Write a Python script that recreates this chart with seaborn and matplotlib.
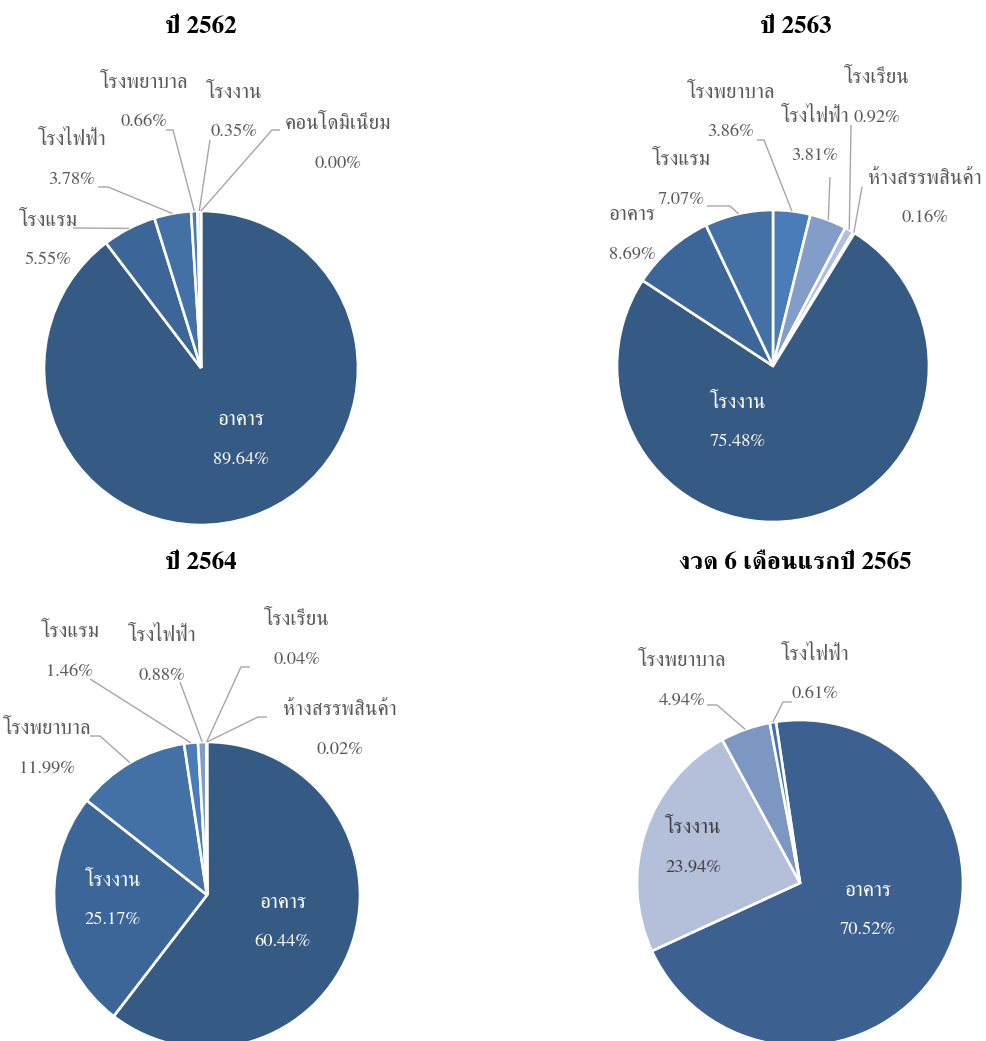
import matplotlib
matplotlib.use("Agg")
import numpy as np
import pandas as pd
import matplotlib.pyplot as plt
import seaborn as sns

# ---------------- data ----------------
titles = ["ปี 2562", "ปี 2563", "ปี 2564", "งวด 6 เดือนแรกปี 2565"]

cats_2562 = ["อาคาร", "โรงแรม", "โรงไฟฟ้า", "โรงพยาบาล", "โรงงาน", "คอนโดมิเนียม"]
vals_2562 = [89.64, 5.55, 3.78, 0.66, 0.35, 0.00]

cats_2563 = ["โรงพยาบาล", "โรงไฟฟ้า", "โรงเรียน", "ห้างสรรพสินค้า", "โรงงาน", "อาคาร", "โรงแรม"]
vals_2563 = [3.86, 3.81, 0.92, 0.16, 75.48, 8.69, 7.07]

cats_2564 = ["อาคาร", "โรงงาน", "โรงพยาบาล", "โรงแรม", "โรงไฟฟ้า", "โรงเรียน", "ห้างสรรพสินค้า"]
vals_2564 = [60.44, 25.17, 11.99, 1.46, 0.88, 0.04, 0.02]

cats_2565 = ["อาคาร", "โรงงาน", "โรงพยาบาล", "โรงไฟฟ้า"]
vals_2565 = [70.52, 23.94, 4.94, 0.61]

# ---------------- style ----------------
sns.set_theme(style="white")
plt.rcParams["font.family"] = ["FreeSerif", "DejaVu Sans"]

W, H = 987, 1041
fig = plt.figure(figsize=(W / 100, H / 100), dpi=100)
fig.patch.set_facecolor("white")

DARK = "#355a84"
C2 = "#3d6698"
C3 = "#4371a6"
C4 = "#4a7cba"
C5 = "#829dc8"
C6 = "#adc0e0"
C7 = "#c9d5ec"

LBL = "#595959"
LEAD = "#a6a6a6"
FS_NAME = 15
FS_PCT = 13.2
HALF = 19.5  # half distance (px) between name line and percent line

# label layout: category -> (mode, block centre offset px (dx, dy-down), leader end px, elbow px, text colour)
layouts = [
    dict(cats=cats_2562, vals=vals_2562, title=titles[0], tpos=(201, 27),
         c=(201, 368), r=157, start=90,
         colors=[DARK, C2, C3, C4, C6, C7],
         labels={
             "อาคาร": ("in", (40, 72), None, None, "white"),
             "โรงแรม": ("out", (-153, -127), (-128, -140), None, LBL),
             "โรงไฟฟ้า": ("out", (-129, -208), (-103, -181), (-93, -181), LBL),
             "โรงพยาบาล": ("out", (-57, -265), (-35, -238), (-28, -238), LBL),
             "โรงงาน": ("out", (33, -255), (9, -228), None, LBL),
             "คอนโดมิเนียม": ("out", (137, -224), (79, -238), (71, -238), LBL),
         }),
    dict(cats=cats_2563, vals=vals_2563, title=titles[1], tpos=(796, 27),
         c=(773, 366), r=156, start=90,
         colors=[C4, C5, C6, C7, DARK, C2, C3],
         labels={
             "โรงงาน": ("in", (-35, 57), None, None, "white"),
             "อาคาร": ("none", (-141, -131), None, None, LBL),
             "โรงแรม": ("out", (-92, -186), (-66, -160), (-43, -160), LBL),
             "โรงพยาบาล": ("out", (-42, -253), (-16, -226), (-9, -226), LBL),
             "โรงไฟฟ้า": ("out", (42, -229), (57, -189), None, LBL),
             "โรงเรียน": ("out", (104, -268), (78, -241), None, LBL),
             "ห้างสรรพสินค้า": ("out", (152, -167), (89, -179), None, LBL),
         }),
    dict(cats=cats_2564, vals=vals_2564, title=titles[2], tpos=(201, 563),
         c=(207, 895), r=153, start=90,
         colors=[DARK, C2, C3, C4, C5, C6, C7],
         labels={
             "อาคาร": ("in", (76, 28), None, None, "white"),
             "โรงงาน": ("in", (-94, 6), None, None, "white"),
             "โรงพยาบาล": ("out", (-160, -146), (-117, -159), (-107, -159), LBL),
             "โรงแรม": ("out", (-137, -243), (-117, -216), None, LBL),
             "โรงไฟฟ้า": ("out", (-45, -239), (-27, -213), None, LBL),
             "โรงเรียน": ("out", (90, -255), (43, -228), (34, -228), LBL),
             "ห้างสรรพสินค้า": ("out", (133, -165), (60, -178), (51, -178), LBL),
         }),
    dict(cats=cats_2565, vals=vals_2565, title=titles[3], tpos=(795, 563),
         c=(800, 883), r=163, start=98.5,
         colors=["#3c6190", "#b4c0da", "#7b97c2", "#4472b0"],
         labels={
             "อาคาร": ("in", (68, 28), None, None, "white"),
             "โรงงาน": ("in", (-107, -35), None, None, "#404040"),
             "โรงพยาบาล": ("out", (-118, -202), (-93, -178), (-83, -178), LBL),
             "โรงไฟฟ้า": ("out", (15, -208), (-8, -181), (-17, -181), LBL),
         }),
]

for L in layouts:
    cx, cy = L["c"]
    r = L["r"]
    ax = fig.add_axes([(cx - r) / W, (H - cy - r) / H, 2 * r / W, 2 * r / H])
    df = pd.DataFrame({"cat": L["cats"], "val": L["vals"]})
    wedges, _ = ax.pie(df["val"], colors=L["colors"], startangle=L["start"],
                       counterclock=False, radius=1.0,
                       wedgeprops=dict(edgecolor="white", linewidth=1.9))
    ax.set_xlim(-1, 1)
    ax.set_ylim(-1, 1)
    ax.set_aspect("equal")
    ax.axis("off")
    for w in wedges:
        w.set_clip_on(False)

    for w, cat, val in zip(wedges, df["cat"], df["val"]):
        mode, (bx, by), end, elbow, col = L["labels"][cat]
        ax.text(bx / r, -(by - HALF) / r, cat, ha="center", va="center",
                fontsize=FS_NAME, color=col, clip_on=False)
        ax.text(bx / r, -(by + HALF) / r, f"{val:.2f}%", ha="center", va="center",
                fontsize=FS_PCT, color=col, clip_on=False)
        if mode == "out" and end is not None:
            th = np.deg2rad((w.theta1 + w.theta2) / 2)
            ex, ey = np.cos(th), np.sin(th)
            pts = [(end[0] / r, -end[1] / r)]
            if elbow is not None:
                pts.append((elbow[0] / r, -elbow[1] / r))
            pts.append((ex, ey))
            xs, ys = zip(*pts)
            ax.plot(xs, ys, color=LEAD, lw=1.0, clip_on=False, solid_capstyle="butt")

    tx, ty = L["tpos"]
    fig.text(tx / W, 1 - ty / H, L["title"], ha="center", va="center",
             fontsize=18, fontweight="bold", color="black")

fig.savefig("out.png", dpi=100, facecolor="white")
